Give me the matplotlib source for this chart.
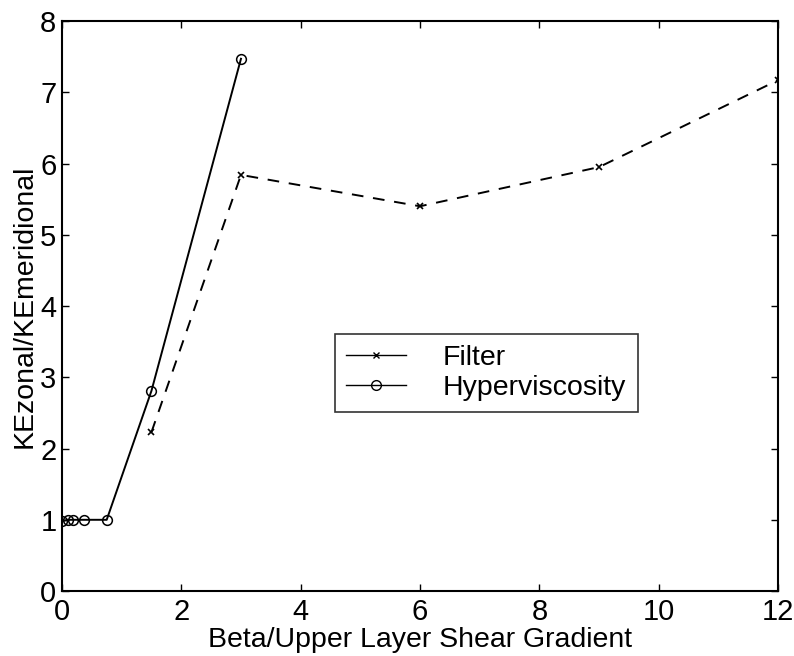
import matplotlib
matplotlib.use('Agg')
import matplotlib.pyplot as plt
from matplotlib.lines import Line2D

plt.rcParams['font.family'] = ['Liberation Sans', 'DejaVu Sans']

# Filter runs
filter_x = [1.5, 3, 6, 9, 12]
filter_y = [2.23, 5.84, 5.40, 5.95, 7.17]

# Hyperviscosity runs
hyper_x = [0, 0.09375, 0.1875, 0.375, 0.75, 1.5, 3]
hyper_y = [0.98, 1.0, 1.0, 1.0, 1.0, 2.81, 7.47]

xticks = [0, 2, 4, 6, 8, 10, 12]
yticks = [0, 1, 2, 3, 4, 5, 6, 7, 8]

fig = plt.figure(figsize=(7.94, 6.56), dpi=100)
ax = fig.add_axes([0.078, 0.099, 0.902, 0.869])

ax.plot(filter_x, filter_y, color='black', linestyle=(0, (6, 5)), linewidth=1.4,
        marker='x', markersize=5, markeredgewidth=1.2)
ax.plot(hyper_x, hyper_y, color='black', linestyle='-', linewidth=1.4,
        marker='o', markersize=7, markerfacecolor='none', markeredgewidth=1.1)

ax.set_xlim(0, 12)
ax.set_ylim(0, 8)
ax.set_xticks(xticks)
ax.set_yticks(yticks)
ax.tick_params(direction='in', length=5, width=1, top=True, right=True,
               labelsize=21)
ax.tick_params(axis='x', pad=5)
ax.tick_params(axis='y', pad=4)
for s in ax.spines.values():
    s.set_linewidth(1.5)

ax.set_xlabel('Beta/Upper Layer Shear Gradient', fontsize=20.5, labelpad=1)
ax.set_ylabel('KEzonal/KEmeridional', fontsize=20.5, labelpad=2)

handles = [
    Line2D([], [], color='black', lw=1, marker='x', markersize=5),
    Line2D([], [], color='black', lw=1, marker='o', markersize=7,
           markerfacecolor='none'),
]
leg = ax.legend(handles, ['Filter', 'Hyperviscosity'], loc='lower left',
                bbox_to_anchor=(0.381, 0.314), fontsize=20.5, frameon=True,
                fancybox=False, edgecolor='black', handlelength=2.1,
                borderpad=0.4, labelspacing=0.12, handletextpad=1.3,
                borderaxespad=0)
leg.get_frame().set_linewidth(1.2)

fig.savefig('out.png', dpi=100, facecolor='white')
